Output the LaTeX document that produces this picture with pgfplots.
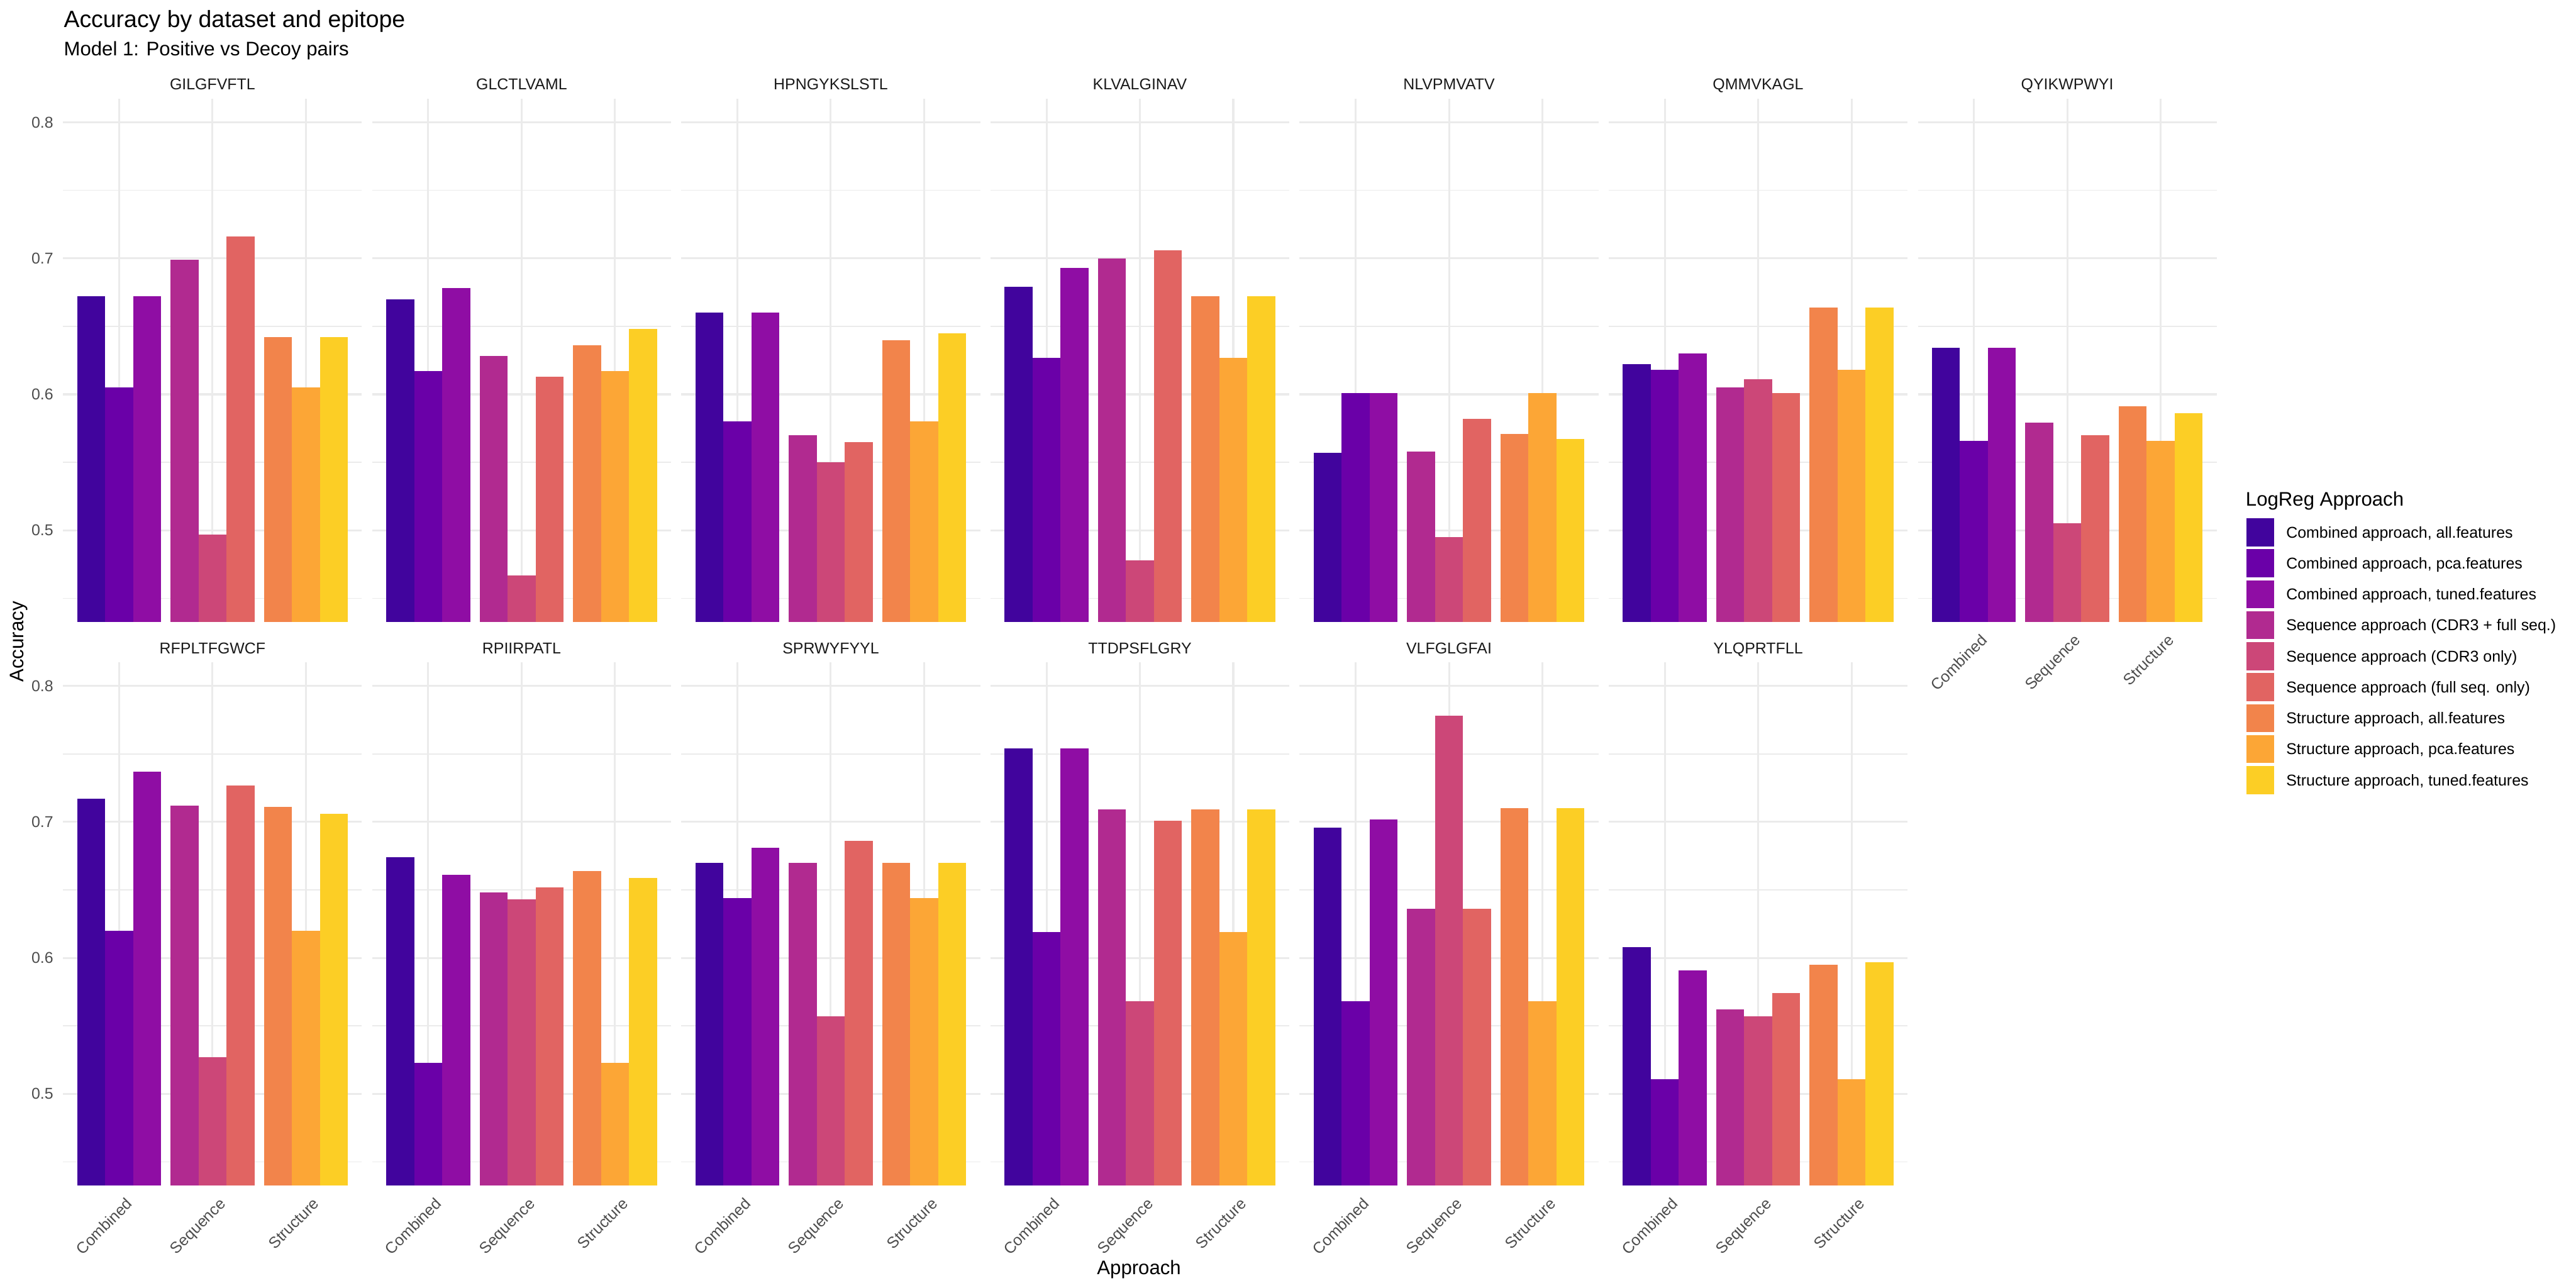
\documentclass[border=0pt]{standalone}
\usepackage{fontspec}
\setmainfont{Liberation Sans}
\usepackage{graphicx}
\usepackage{pgfplots}
\pgfplotsset{compat=1.18}

\definecolor{cA}{HTML}{41049D}
\definecolor{cB}{HTML}{6A00A8}
\definecolor{cC}{HTML}{8F0DA4}
\definecolor{cD}{HTML}{B12A90}
\definecolor{cE}{HTML}{CC4778}
\definecolor{cF}{HTML}{E16462}
\definecolor{cG}{HTML}{F2844B}
\definecolor{cH}{HTML}{FCA636}
\definecolor{cI}{HTML}{FCCE25}
\definecolor{gridc}{HTML}{EBEBEB}
\definecolor{tickc}{HTML}{4D4D4D}
\definecolor{stripc}{HTML}{1A1A1A}

\newcommand\tickfont{\fontsize{8.8}{10}\selectfont}
\newcommand\axfont{\fontsize{11}{13}\selectfont}
\newcommand\titlefont{\fontsize{13.2}{15}\selectfont}
\newcommand\rl[1]{\rotatebox{45}{\raisebox{0pt}[6.4pt][0pt]{#1}}}

% one bar per approach variant: Combined (0.7,1.0,1.3), Sequence (1.7,2.0,2.3), Structure (2.7,3.0,3.3)
\newcommand\bars[9]{%
  \addplot[fill=cA] coordinates {(0.7,#1)};
  \addplot[fill=cB] coordinates {(1.0,#2)};
  \addplot[fill=cC] coordinates {(1.3,#3)};
  \addplot[fill=cD] coordinates {(1.7,#4)};
  \addplot[fill=cE] coordinates {(2.0,#5)};
  \addplot[fill=cF] coordinates {(2.3,#6)};
  \addplot[fill=cG] coordinates {(2.7,#7)};
  \addplot[fill=cH] coordinates {(3.0,#8)};
  \addplot[fill=cI] coordinates {(3.3,#9)};
}

\pgfplotsset{
  panel/.style={
    anchor=north west,
    scale only axis, width=167.67pt, height=293.73pt,
    xmin=0.4, xmax=3.6, ymin=0.4325, ymax=0.8175,
    enlargelimits=false,
    ybar, bar width=0.3,
    every axis plot post/.append style={bar shift=0pt, draw=none,
      legend image code/.code={\fill[##1] (0pt,-7.87pt) rectangle (15.78pt,7.87pt);}},
    axis line style={draw=none},
    major tick length=0pt, minor tick length=0pt,
    tick style={draw=none},
    xtick={1,2,3}, ytick={0.5,0.6,0.7,0.8},
    minor ytick={0.45,0.55,0.65,0.75},
    xmajorgrids, ymajorgrids, yminorgrids,
    major grid style={line width=1.07pt, color=gridc},
    minor grid style={line width=0.53pt, color=gridc},
    xticklabels={}, yticklabels={},
    xticklabel style={font=\tickfont, text=tickc, inner sep=0pt,
      anchor=north east, xshift=8.1pt, yshift=-6.0pt},
    yticklabel style={font=\tickfont, text=tickc, inner sep=0pt,
      anchor=east, xshift=-5.3pt},
    every axis title/.style={at={(0.5,1)}, anchor=base, yshift=4.9pt,
      inner sep=0pt, font=\tickfont, text=stripc},
  },
  leftcol/.style={yticklabels={0.5,0.6,0.7,0.8}},
  bottomrow/.style={xticklabels={\rl{Combined},\rl{Sequence},\rl{Structure}}},
}

\begin{document}
\begin{tikzpicture}
\useasboundingbox (0pt,0pt) rectangle (1445.4pt,-722.7pt);

% titles
\node[anchor=base west, inner sep=0pt, font=\titlefont] at (35.65pt,-15.2pt) {Accuracy by dataset and epitope};
\node[anchor=base west, inner sep=0pt, font=\axfont] at (35.65pt,-31.2pt) {Model 1: Positive vs Decoy pairs};
\node[anchor=base, inner sep=0pt, font=\axfont, rotate=90] at (13.25pt,-360.1pt) {Accuracy};
\node[anchor=base, inner sep=0pt, font=\axfont] at (639.1pt,-715.0pt) {Approach};
\node[anchor=base west, inner sep=0pt, font=\axfont] at (1259.9pt,-283.8pt) {LogReg Approach};

% ---------- row 1 ----------
\begin{axis}[panel, leftcol, at={(35.41pt,-55.31pt)}, title={GILGFVFTL}]
\bars{0.672}{0.605}{0.672}{0.699}{0.497}{0.716}{0.642}{0.605}{0.642}
\end{axis}
\begin{axis}[panel, at={(208.86pt,-55.31pt)}, title={GLCTLVAML}]
\bars{0.670}{0.617}{0.678}{0.628}{0.467}{0.613}{0.636}{0.617}{0.648}
\end{axis}
\begin{axis}[panel, at={(382.31pt,-55.31pt)}, title={HPNGYKSLSTL}]
\bars{0.660}{0.580}{0.660}{0.570}{0.550}{0.565}{0.640}{0.580}{0.645}
\end{axis}
\begin{axis}[panel, at={(555.76pt,-55.31pt)}, title={KLVALGINAV}]
\bars{0.679}{0.627}{0.693}{0.700}{0.478}{0.706}{0.672}{0.627}{0.672}
\end{axis}
\begin{axis}[panel, at={(729.20pt,-55.31pt)}, title={NLVPMVATV}]
\bars{0.557}{0.601}{0.601}{0.558}{0.495}{0.582}{0.571}{0.601}{0.567}
\end{axis}
\begin{axis}[panel, at={(902.65pt,-55.31pt)}, title={QMMVKAGL}]
\bars{0.622}{0.618}{0.630}{0.605}{0.611}{0.601}{0.664}{0.618}{0.664}
\end{axis}
\begin{axis}[panel, bottomrow, at={(1076.10pt,-55.31pt)}, title={QYIKWPWYI},
  legend cell align=left,
  legend style={at={(1.0989,0.1984)}, anchor=north west, draw=none, fill=none,
    inner sep=0pt, outer sep=0pt, row sep=1.64pt, font=\tickfont,
    nodes={inner sep=0pt, text height=6.3pt, text depth=0pt},
    /tikz/every odd column/.append style={column sep=6.67pt}}]
\bars{0.634}{0.566}{0.634}{0.579}{0.505}{0.570}{0.591}{0.566}{0.586}
\legend{{Combined approach, all.features},{Combined approach, pca.features},{Combined approach, tuned.features},{Sequence approach (CDR3 + full seq.)},{Sequence approach (CDR3 only)},{Sequence approach (full seq. only)},{Structure approach, all.features},{Structure approach, pca.features},{Structure approach, tuned.features}}
\end{axis}

% ---------- row 2 ----------
\begin{axis}[panel, leftcol, bottomrow, at={(35.41pt,-371.54pt)}, title={RFPLTFGWCF}]
\bars{0.717}{0.620}{0.737}{0.712}{0.527}{0.727}{0.711}{0.620}{0.706}
\end{axis}
\begin{axis}[panel, bottomrow, at={(208.86pt,-371.54pt)}, title={RPIIRPATL}]
\bars{0.674}{0.523}{0.661}{0.648}{0.643}{0.652}{0.664}{0.523}{0.659}
\end{axis}
\begin{axis}[panel, bottomrow, at={(382.31pt,-371.54pt)}, title={SPRWYFYYL}]
\bars{0.670}{0.644}{0.681}{0.670}{0.557}{0.686}{0.670}{0.644}{0.670}
\end{axis}
\begin{axis}[panel, bottomrow, at={(555.76pt,-371.54pt)}, title={TTDPSFLGRY}]
\bars{0.754}{0.619}{0.754}{0.709}{0.568}{0.701}{0.709}{0.619}{0.709}
\end{axis}
\begin{axis}[panel, bottomrow, at={(729.20pt,-371.54pt)}, title={VLFGLGFAI}]
\bars{0.696}{0.568}{0.702}{0.636}{0.778}{0.636}{0.710}{0.568}{0.710}
\end{axis}
\begin{axis}[panel, bottomrow, at={(902.65pt,-371.54pt)}, title={YLQPRTFLL}]
\bars{0.608}{0.511}{0.591}{0.562}{0.557}{0.574}{0.595}{0.511}{0.597}
\end{axis}

\end{tikzpicture}
\end{document}
